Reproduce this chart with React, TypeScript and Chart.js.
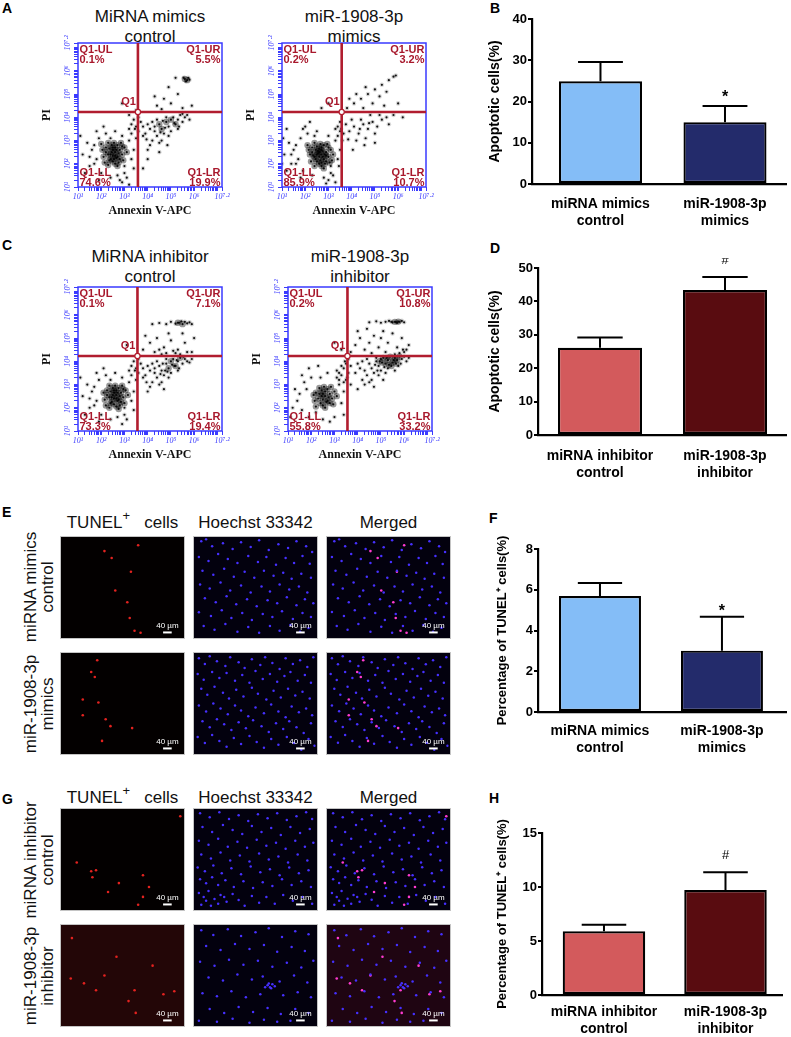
import React, { useEffect, useRef } from "react";
import { Chart, registerables } from "chart.js";

Chart.register(...registerables);

const SANS = "'Liberation Sans', Arial, Helvetica, sans-serif";
const SERIF = "'Liberation Serif', 'Times New Roman', Times, serif";
const NARROW = "'Liberation Sans Narrow', 'Arial Narrow', 'Liberation Sans', Arial, sans-serif";
const FLOW_BLUE = "#3a3aff";
const FLOW_RED = "#b11d2f";
const FLOW_TEXT_RED = "#a8182c";

type P = [number, number];

// ---------------- flow cytometry axis ----------------
const FLOW_DECADES = [1, 2, 3, 4, 5, 6, 7];
const FLOW_MINOR_FACTORS = [1, 2, 3, 4, 5, 6, 7, 8, 9];
const FLOW_MAX = 7.2;
const FLOW_LABEL_VALUES = [1, 2, 3, 4, 5, 6, 7.2];
const FLOW_LABELS = ["10¹", "10²", "10³", "10⁴", "10⁵", "10⁶", "10⁷·²"];
const QUAD_NAMES = ["Q1-UL", "Q1-UR", "Q1-LL", "Q1-LR"];
const GATE_X = [3.58, 3.57, 3.56, 3.56];
const GATE_Y = 4.23;
const A1_QUAD = ["0.1%", "5.5%", "74.6%", "19.9%"];
const A2_QUAD = ["0.2%", "3.2%", "85.9%", "10.7%"];
const C1_QUAD = ["0.1%", "7.1%", "73.3%", "19.4%"];
const C2_QUAD = ["0.2%", "10.8%", "55.8%", "33.2%"];
const A1_TITLE = ["MiRNA mimics", "control"];
const A2_TITLE = ["miR-1908-3p", "mimics"];
const C1_TITLE = ["MiRNA inhibitor", "control"];
const C2_TITLE = ["miR-1908-3p", "inhibitor"];

// events in decades (log10 Annexin V-APC, log10 PI)
const A1_CORE: P[] = [[2.3,2.4],[2.5,2.6],[2.7,2.3],[2.6,2.5],[2.4,2.2],[2.8,2.6],[2.2,2.7],[2.9,2.4],[2.5,2.1],[2.7,2.8],[2.3,2.9],[2.6,2.0],[3.0,2.7],[2.1,2.3],[2.45,2.5],[2.8,2.2],[2.6,2.7],[2.5,2.35],[2.75,2.45],[2.35,2.65],[2.55,2.9],[2.95,2.15],[2.15,2.05],[2.65,2.25],[2.45,2.8],[3.1,2.5],[2.05,2.6],[2.85,2.9],[2.7,1.9],[2.3,1.95],[2.4,2.4],[2.6,2.35],[2.5,2.7],[2.2,2.5],[2.9,2.75],[2.65,2.6],[2.35,2.15],[2.75,2.05],[2.55,2.2],[2.0,2.85],[4.5,3.7],[4.8,3.8],[5.0,3.9],[5.2,3.7],[4.6,3.5],[5.6,5.65],[5.7,5.6]];
const A1_CLOUD: P[] = [[1.6,2.6],[1.8,2.2],[1.4,2.9],[1.9,3.1],[2.0,1.6],[1.5,1.9],[1.7,2.8],[2.2,3.3],[2.6,3.4],[3.2,3.0],[3.3,2.2],[3.0,1.6],[2.9,1.2],[3.1,1.4],[2.7,1.5],[2.4,1.4],[1.2,2.4],[1.3,1.6],[1.9,1.3],[3.4,2.6],[3.2,3.5],[2.9,3.2],[1.1,3.2],[2.1,3.6],[3.4,1.8],[1.7,2.0],[1.8,3.4],[2.4,3.1],[3.0,1.9],[1.5,2.3],[2.8,1.3],[3.2,1.1],
[3.3,3.3],[3.5,3.6],[3.4,3.9],[3.6,3.4],[3.7,3.8],[3.5,3.1],[3.3,3.7],[3.8,3.2],[3.6,4.0],[3.45,3.5],[3.2,4.1],[3.5,4.3],
[3.9,3.3],[4.1,3.5],[4.3,3.4],[4.4,3.2],[4.7,3.3],[4.9,3.6],[5.1,4.0],[5.3,3.9],[5.4,4.1],[5.5,3.8],[5.6,4.0],[5.7,4.1],[4.2,3.0],[4.0,3.7],[4.6,3.0],[4.4,3.9],[4.9,3.2],[5.0,3.4],[5.3,3.5],[4.2,3.8],[4.8,4.0],[4.5,2.9],[3.8,3.6],[4.1,2.8],[5.8,3.9],[5.5,4.15],[4.3,3.6],[4.75,3.55],[5.15,3.75],[4.55,3.35],[3.95,3.05],[4.65,3.85],[5.35,3.6],[4.0,2.6],[4.85,2.8],[4.0,2.2],[3.8,1.8],[4.5,2.5],
[5.75,5.7],[5.65,5.55],[5.8,5.62],[5.55,5.7],[4.4,4.5],[4.7,4.8],[5.0,4.6],[5.3,5.0],[4.9,5.3],[5.5,4.4],[4.6,4.35],[5.9,4.5],[5.2,5.7],[4.3,4.9],[2.9,4.6]];

const A2_CORE: P[] = [[2.4,2.3],[2.6,2.5],[2.8,2.2],[2.7,2.6],[2.5,2.1],[2.9,2.5],[2.3,2.7],[3.0,2.3],[2.6,2.0],[2.8,2.8],[2.4,2.9],[2.7,1.9],[3.1,2.6],[2.2,2.4],[2.55,2.45],[2.9,2.1],[2.7,2.7],[2.6,2.3],[2.85,2.4],[2.45,2.6],[2.65,2.85],[3.05,2.05],[2.25,2.1],[2.75,2.3],[2.5,2.75],[3.2,2.4],[2.15,2.6],[2.95,2.85],[2.8,1.8],[2.4,1.9],[2.5,2.4],[2.7,2.4],[2.6,2.65],[2.3,2.5],[3.0,2.7],[2.75,2.55],[2.45,2.2],[2.85,2.0],[2.65,2.15],[2.1,2.8],[2.9,2.35],[2.55,2.55],[2.35,2.35],[3.15,2.15],[2.7,2.05]];
const A2_CLOUD: P[] = [[1.5,2.6],[1.7,2.2],[1.3,2.9],[1.8,3.1],[1.9,1.7],[1.4,2.0],[1.6,2.8],[2.1,3.3],[2.5,3.4],[3.3,3.0],[3.4,2.2],[3.1,1.6],[3.0,1.3],[3.2,1.5],[2.8,1.4],[2.3,1.5],[1.1,2.4],[1.2,1.7],[1.8,1.4],[3.5,2.6],[3.3,3.5],[3.0,3.2],[1.05,3.1],[2.0,3.6],[3.45,1.9],[1.6,2.0],[1.9,3.5],[2.4,3.2],[3.1,1.9],[1.4,2.4],[2.9,1.15],[3.3,1.2],[1.2,3.5],[2.2,3.8],[3.5,3.4],[1.0,2.0],
[3.4,3.2],[3.55,3.5],[3.5,3.8],[3.65,3.3],[3.75,3.7],[3.6,3.0],[3.4,3.6],
[3.9,3.4],[4.1,3.6],[4.3,3.3],[4.5,3.7],[4.7,3.5],[4.9,3.8],[5.1,3.6],[5.3,3.9],[4.2,3.0],[4.6,3.1],[4.4,3.9],[4.8,4.1],[5.0,3.3],[5.5,4.0],[5.8,4.1],[4.0,3.9],[4.35,3.5],[4.75,3.75],[5.2,4.1],[3.85,3.05],[4.55,2.8],[5.6,3.7],[4.05,2.6],[6.2,4.0],[5.0,2.9],
[3.8,4.4],[4.1,4.6],[4.4,4.8],[4.7,5.0],[5.0,5.2],[5.3,5.4],[5.6,5.6],[5.8,5.75],[5.9,5.8],[4.5,4.4],[4.9,4.6],[5.2,4.9],[4.2,5.0],[5.5,5.1],[6.0,4.6],[4.6,5.3],[5.4,4.5],[3.9,4.8],[3.0,4.6],[2.7,4.4]];

const C1_CORE: P[] = [[2.35,2.45],[2.55,2.65],[2.75,2.35],[2.65,2.55],[2.45,2.25],[2.85,2.65],[2.25,2.75],[2.95,2.45],[2.55,2.15],[2.75,2.85],[2.35,2.95],[2.65,2.05],[3.05,2.75],[2.15,2.35],[2.5,2.55],[2.85,2.25],[2.65,2.75],[2.55,2.4],[2.8,2.5],[2.4,2.7],[2.6,2.95],[3.0,2.2],[2.2,2.1],[2.7,2.3],[2.5,2.85],[3.15,2.55],[2.1,2.65],[2.9,2.95],[2.75,1.95],[2.35,2.0],[2.45,2.45],[2.65,2.4],[2.55,2.75],[2.25,2.55],[2.95,2.8],[2.7,2.65],[2.4,2.2],[2.8,2.1],[5.0,4.0],[5.2,3.8],[4.9,3.7],[5.4,4.15],[5.3,5.66],[5.5,5.6]];
const C1_CLOUD: P[] = [[1.6,2.7],[1.8,2.3],[1.4,3.0],[1.9,3.2],[2.0,1.7],[1.5,2.0],[1.7,2.9],[2.2,3.4],[2.6,3.5],[3.2,3.1],[3.3,2.3],[3.0,1.7],[2.9,1.3],[3.1,1.5],[2.7,1.6],[2.4,1.5],[1.2,2.5],[1.3,1.7],[1.9,1.4],[3.4,2.7],[3.2,3.6],[2.9,3.3],[1.1,3.3],[2.1,3.7],[3.4,1.9],[1.7,2.1],[1.8,3.5],[2.4,3.2],[3.0,2.0],[1.5,2.4],
[3.3,3.4],[3.5,3.7],[3.4,4.0],[3.6,3.5],[3.7,3.9],[3.5,3.2],[3.3,3.8],[3.8,3.3],[3.6,4.1],[3.45,3.6],
[3.9,3.4],[4.1,3.6],[4.3,3.5],[4.5,3.8],[4.4,3.3],[4.6,3.6],[4.8,3.9],[4.7,3.4],[5.1,4.1],[5.3,4.0],[5.5,3.9],[5.6,4.1],[5.7,4.0],[4.2,3.1],[4.0,3.8],[4.6,3.1],[4.4,4.0],[4.9,3.3],[5.0,3.5],[5.3,3.6],[4.2,3.9],[4.8,4.1],[4.5,3.0],[3.8,3.7],[4.1,2.9],[5.8,3.95],[5.55,4.2],[4.3,3.7],[4.75,3.6],[5.15,3.8],[4.55,3.45],[3.95,3.1],[4.65,3.9],[5.35,3.7],[5.05,3.85],[4.85,3.55],[5.25,4.05],[5.9,4.1],[4.0,2.7],[4.7,2.8],
[4.2,5.6],[4.5,5.65],[4.8,5.6],[5.0,5.7],[5.2,5.62],[5.35,5.66],[5.6,5.7],[5.7,5.63],[5.8,5.68],[5.45,5.72],[5.9,5.6],
[3.8,4.5],[4.1,4.8],[4.4,5.0],[4.7,4.6],[5.0,4.9],[5.3,4.5],[5.6,4.8],[5.9,4.4],[4.3,4.4],[4.9,5.2],[5.5,5.2],[3.9,5.1],[5.2,4.35],[4.6,4.3],[6.0,5.0],[4.8,4.35],[5.1,4.45],[5.4,4.3],[5.7,4.4],[4.5,4.5],[3.1,4.7]];

const C2_CORE: P[] = [[2.3,2.4],[2.5,2.6],[2.7,2.3],[2.6,2.5],[2.4,2.2],[2.8,2.6],[2.2,2.65],[2.9,2.4],[2.5,2.1],[2.7,2.8],[2.35,2.85],[2.6,2.0],[3.0,2.7],[2.15,2.3],[2.45,2.5],[2.8,2.2],[2.6,2.7],[2.5,2.35],[2.75,2.45],[2.35,2.6],[2.55,2.9],[2.95,2.15],[2.2,2.05],[2.65,2.25],[2.45,2.75],[3.1,2.5],[2.1,2.55],[2.85,2.9],
[5.2,3.9],[5.1,4.15],[5.3,4.05],[5.4,4.2],[5.5,3.95],[5.6,4.15],[5.7,4.05],[5.8,4.2],[5.45,3.8],[5.65,3.9],[5.05,3.95],[5.25,4.15],[5.35,3.85],[5.55,4.05],[4.95,4.0],[5.6,5.7],[5.75,5.71]];
const C2_CLOUD: P[] = [[1.4,2.3],[1.6,1.9],[1.8,2.8],[1.9,1.6],[1.5,2.6],[1.7,3.1],[2.0,3.3],[2.4,3.3],[3.2,3.2],[3.3,2.2],[3.0,1.6],[2.8,1.4],[2.5,1.5],[2.2,1.8],[1.2,2.0],[1.3,2.8],[1.1,1.6],[3.4,2.7],[3.1,3.6],[2.7,3.5],[1.9,3.7],[3.4,1.7],[2.3,3.8],[1.6,3.4],
[3.2,3.0],[3.3,3.4],[3.4,3.7],[3.5,3.2],[3.5,3.9],[3.6,3.5],[3.7,3.8],[3.4,3.1],[3.3,3.8],[3.6,4.1],[3.2,3.5],[3.55,3.3],[3.45,4.0],[3.1,3.3],[3.7,3.0],
[3.9,3.5],[4.1,3.7],[4.3,3.6],[4.5,3.9],[4.4,3.4],[4.6,3.7],[4.8,4.0],[4.7,3.5],[4.9,3.8],[5.0,4.1],[5.9,4.1],[6.0,4.2],[4.2,3.2],[4.0,3.9],[4.6,3.2],[4.4,4.1],[4.9,3.4],[5.0,3.6],[5.3,3.7],[4.2,4.0],[4.8,4.15],[4.5,3.1],[5.2,3.5],[5.75,3.8],[4.75,3.85],[5.15,3.75],[4.85,3.6],[6.1,4.0],[5.85,3.9],[4.3,3.0],[4.7,2.9],[5.1,3.2],[4.0,2.8],[5.6,3.6],[6.2,4.15],
[4.5,5.68],[4.8,5.72],[5.0,5.66],[5.2,5.7],[5.35,5.74],[5.5,5.68],[5.7,5.66],[5.8,5.7],[5.9,5.74],[6.0,5.68],[5.45,5.7],[5.65,5.69],
[3.7,4.4],[3.9,4.7],[4.1,5.0],[4.3,4.5],[4.5,4.8],[4.7,5.1],[4.9,4.6],[5.1,5.3],[5.3,4.8],[5.5,5.2],[5.7,4.6],[5.9,5.0],[6.1,4.5],[4.0,5.3],[4.6,4.35],[5.2,4.4],[5.8,4.35],[6.2,4.7],[4.4,5.4],[5.0,5.0],[6.0,4.4],[5.6,4.3],[5.95,4.5],[3.0,4.8],[3.3,4.5]];

// ---------------- bar charts ----------------
const MIMIC_LABELS = [["miRNA mimics", "control"], ["miR-1908-3p", "mimics"]];
const INHIB_LABELS = [["miRNA inhibitor", "control"], ["miR-1908-3p", "inhibitor"]];
const MIMIC_COLORS = ["#84bdf7", "#232b6b"];
const INHIB_COLORS = ["#d35a5c", "#590c10"];
const B_VALUES = [24.9, 15.0];
const B_ERR = [29.6, 18.9];
const D_VALUES = [26.1, 43.4];
const D_ERR = [29.2, 47.3];
const F_VALUES = [5.69, 3.01];
const F_ERR = [6.33, 4.68];
const H_VALUES = [5.9, 9.72];
const H_ERR = [6.5, 11.36];
const APOP_TITLE = "Apoptotic cells(%)";
const TUNEL_TITLE = "Percentage of TUNEL⁺ cells(%)";

// ---------------- microscopy (x, y in % of field, y from top) ----------------
const E1_BLUE: P[] = [[5,3],[9,1],[14,8],[23,5],[31,11],[38,4],[46,9],[53,2],[61,12],[69,6],[77,10],[84,3],[92,8],[97,14],[3,19],[11,23],[19,16],[27,21],[35,25],[44,18],[52,24],[59,19],[67,27],[75,20],[82,25],[89,18],[95,26],[6,33],[15,37],[24,31],[32,39],[41,34],[49,40],[57,33],[65,38],[73,35],[80,41],[88,36],[96,40],[4,47],[12,51],[21,45],[29,53],[38,48],[46,55],[55,49],[62,54],[70,47],[78,52],[86,49],[93,55],[8,61],[17,65],[26,59],[34,67],[43,62],[51,69],[60,63],[68,66],[76,60],[84,68],[91,62],[98,66],[3,75],[13,79],[22,73],[30,81],[39,76],[47,83],[56,77],[64,80],[72,74],[81,82],[89,76],[96,80],[7,89],[16,93],[25,87],[35,95],[44,90],[53,96],[62,89],[70,94],[79,88],[87,95],[94,91]];
const E1_RED: P[] = [[35,13],[41,20],[63,7],[57,34],[44,53],[54,65],[56,81],[60,94],[65,96]];
const E2_BLUE: P[] = [[3,4],[8,10],[12,2],[18,7],[25,12],[29,3],[36,8],[41,14],[47,5],[54,11],[58,3],[64,9],[70,15],[75,4],[81,10],[87,6],[93,13],[98,3],[2,20],[7,26],[14,18],[20,24],[26,19],[33,27],[39,21],[45,29],[50,17],[56,25],[62,20],[68,28],[74,22],[79,18],[85,27],[91,21],[96,29],[5,35],[10,41],[16,33],[23,39],[28,45],[34,36],[40,43],[47,34],[52,40],[59,46],[65,37],[71,44],[77,35],[83,42],[89,38],[95,45],[3,52],[9,58],[15,50],[21,55],[27,61],[33,52],[38,57],[44,63],[50,54],[57,60],[63,51],[69,58],[75,64],[80,53],[86,59],[92,55],[97,62],[6,68],[12,74],[18,66],[24,71],[30,77],[36,69],[42,75],[48,67],[55,73],[61,79],[67,70],[73,76],[78,68],[84,74],[90,80],[96,70],[2,84],[8,90],[14,82],[20,88],[26,94],[32,85],[38,91],[45,83],[51,89],[57,95],[63,86],[69,92],[76,84],[82,90],[88,97],[94,86],[99,93]];
const E2_RED: P[] = [[29,6],[24,18],[27,23],[17,46],[30,49],[17,62],[36,66],[40,73],[33,88],[58,75]];
const G1_BLUE: P[] = [[4,3],[12,7],[20,2],[28,9],[36,5],[44,11],[52,4],[60,8],[68,3],[76,10],[84,6],[92,2],[97,9],[6,17],[14,22],[23,15],[31,20],[39,24],[47,16],[55,22],[63,18],[71,25],[79,17],[87,23],[95,19],[3,31],[11,35],[19,29],[27,37],[35,32],[43,38],[51,30],[59,36],[67,33],[75,39],[83,31],[91,37],[98,33],[5,45],[13,49],[21,43],[29,51],[37,46],[45,52],[53,44],[61,50],[69,47],[77,53],[85,45],[93,51],[2,58],[8,62],[15,56],[22,64],[30,59],[38,65],[46,57],[54,63],[62,60],[70,66],[78,58],[86,64],[94,61],[4,70],[9,74],[14,68],[19,76],[25,71],[32,78],[40,72],[48,79],[56,73],[64,77],[72,70],[80,76],[88,72],[96,78],[3,84],[7,88],[11,82],[16,90],[21,86],[26,93],[31,85],[36,91],[41,97],[47,87],[53,94],[59,88],[66,95],[73,86],[81,92],[89,88],[97,95],[5,96],[13,97],[19,95],[24,88],[9,92]];
const G1_RED: P[] = [[12,53],[24,62],[28,61],[25,68],[47,74],[67,66],[67,88],[38,83],[72,78],[98,6],[63,96]];
const G2_BLUE: P[] = [[5,4],[15,9],[27,3],[38,10],[50,6],[61,2],[72,11],[83,5],[94,8],[9,20],[21,24],[33,18],[45,23],[57,19],[68,26],[80,21],[91,25],[4,36],[16,40],[28,34],[40,39],[52,35],[64,41],[76,37],[88,42],[98,35],[11,52],[23,55],[35,49],[47,54],[56,51],[70,56],[82,50],[93,57],[60,60],[62,62],[64,59],[66,61],[63,63],[61,58],[58,62],[6,68],[18,71],[30,66],[42,72],[54,69],[73,70],[85,67],[96,72],[12,84],[24,88],[36,82],[48,87],[60,83],[71,89],[83,84],[94,88],[3,96],[18,97],[31,94],[45,98],[57,95],[68,97],[79,96]];
const G2_RED: P[] = [[7,53],[18,58],[28,65],[55,76],[61,88],[84,69],[93,66],[60,65],[8,12],[45,31],[35,50],[75,40]];
const SCALE_BAR_TEXT = "40 µm";

// ---------------- helpers ----------------
function useChart(make: () => any) {
  const ref = useRef<HTMLCanvasElement>(null);
  useEffect(() => {
    const c = new Chart(ref.current as HTMLCanvasElement, make());
    return () => c.destroy();
  }, []);
  return ref;
}

const toXY = (pts: P[]) => pts.map(([x, y]) => ({ x, y }));

const flowTicks = () =>
  FLOW_DECADES.flatMap((d) => FLOW_MINOR_FACTORS.map((k) => d + Math.log10(k)))
    .filter((v) => v <= FLOW_MAX + 1e-9)
    .concat([FLOW_MAX]);

const flowLabel = (v: number) => {
  const i = FLOW_LABEL_VALUES.findIndex((t) => Math.abs(t - v) < 1e-6);
  return i >= 0 ? FLOW_LABELS[i] : "";
};

const flowDecor = {
  id: "flowDecor",
  afterDatasetsDraw(chart: any, _a: any, o: any) {
    const { ctx, chartArea: a, scales } = chart;
    const px = scales.x.getPixelForValue(o.gx);
    const py = scales.y.getPixelForValue(o.gy);
    ctx.save();
    ctx.strokeStyle = FLOW_BLUE;
    ctx.lineWidth = 1.5;
    ctx.strokeRect(a.left, a.top, a.width, a.height);
    ctx.strokeStyle = FLOW_RED;
    ctx.lineWidth = 2.6;
    ctx.beginPath();
    ctx.moveTo(px, a.top);
    ctx.lineTo(px, a.bottom);
    ctx.moveTo(a.left, py);
    ctx.lineTo(a.right, py);
    ctx.stroke();
    ctx.beginPath();
    ctx.arc(px, py, 2.6, 0, Math.PI * 2);
    ctx.fillStyle = "#fff";
    ctx.fill();
    ctx.lineWidth = 1.2;
    ctx.stroke();
    ctx.fillStyle = FLOW_TEXT_RED;
    ctx.font = `bold 11px ${NARROW}`;
    ctx.textBaseline = "middle";
    ctx.textAlign = "right";
    ctx.fillText("Q1", px - 2, py - 10);
    ctx.textAlign = "left";
    ctx.fillText(QUAD_NAMES[0], a.left + 1.5, a.top + 7);
    ctx.fillText(o.quad[0], a.left + 1.5, a.top + 17);
    ctx.fillText(QUAD_NAMES[2], a.left + 1.5, a.bottom - 14);
    ctx.fillText(o.quad[2], a.left + 1.5, a.bottom - 4);
    ctx.textAlign = "right";
    ctx.fillText(QUAD_NAMES[1], a.right - 1.5, a.top + 7);
    ctx.fillText(o.quad[1], a.right - 1.5, a.top + 17);
    ctx.fillText(QUAD_NAMES[3], a.right - 1.5, a.bottom - 14);
    ctx.fillText(o.quad[3], a.right - 1.5, a.bottom - 4);
    ctx.fillStyle = FLOW_BLUE;
    ctx.font = `italic 8px ${SERIF}`;
    ctx.textAlign = "center";
    FLOW_LABEL_VALUES.forEach((v, i) => {
      const y = scales.y.getPixelForValue(v);
      ctx.save();
      ctx.translate(a.left - 10, y);
      ctx.rotate(-Math.PI / 2);
      ctx.fillText(FLOW_LABELS[i], 0, 0);
      ctx.restore();
    });
    ctx.restore();
  },
};

const FLOW_SIZE = 144;
const FLOW_L = 40;
const FLOW_T = 8;
const FLOW_R = 14;
const FLOW_B = 32;

function FlowPlot({ fx, fy, core, cloud, gx, quad }: { fx: number; fy: number; core: P[]; cloud: P[]; gx: number; quad: string[] }) {
  const W = FLOW_L + FLOW_SIZE + FLOW_R;
  const H = FLOW_T + FLOW_SIZE + FLOW_B;
  const axisCommon = {
    type: "linear",
    min: 1,
    max: FLOW_MAX,
    afterBuildTicks: (s: any) => {
      s.ticks = flowTicks().map((v) => ({ value: v }));
    },
    grid: { drawOnChartArea: false, drawTicks: true, tickLength: 4, color: FLOW_BLUE, lineWidth: 1 },
    border: { display: false },
  };
  const ref = useChart(() => ({
    type: "scatter",
    data: {
      datasets: [
        { data: toXY(cloud), pointRadius: 2.3, pointBackgroundColor: "rgba(0,0,0,0.16)", pointBorderWidth: 0, pointHoverRadius: 0 },
        { data: toXY(core), pointRadius: 3.2, pointBackgroundColor: "rgba(0,0,0,0.4)", pointBorderWidth: 0, pointHoverRadius: 0 },
        { data: toXY(core.concat(cloud)), pointRadius: 1.1, pointBackgroundColor: "rgba(0,0,0,0.9)", pointBorderWidth: 0, pointHoverRadius: 0 },
      ],
    },
    options: {
      responsive: false,
      animation: false,
      events: [],
      layout: { padding: { top: FLOW_T, right: FLOW_R, left: 0, bottom: 0 } },
      plugins: { legend: { display: false }, tooltip: { enabled: false }, flowDecor: { gx, gy: GATE_Y, quad } },
      scales: {
        x: {
          ...axisCommon,
          afterFit: (s: any) => {
            s.height = FLOW_B;
          },
          ticks: {
            autoSkip: false,
            maxRotation: 0,
            minRotation: 0,
            padding: 1,
            color: FLOW_BLUE,
            font: { family: SERIF, style: "italic", size: 8 },
            callback: (v: number) => flowLabel(v),
          },
          title: { display: true, text: "Annexin V-APC", color: "#111", font: { family: SERIF, weight: "bold", size: 12 }, padding: { top: 0, bottom: 1 } },
        },
        y: {
          ...axisCommon,
          afterFit: (s: any) => {
            s.width = FLOW_L;
          },
          ticks: { display: false },
          title: { display: true, text: "PI", color: "#111", font: { family: SERIF, weight: "bold", size: 12 }, padding: { top: 2, bottom: 0 } },
        },
      },
    },
    plugins: [flowDecor],
  }));
  return (
    <div style={{ position: "absolute", left: fx - FLOW_L, top: fy - FLOW_T, width: W, height: H }}>
      <canvas ref={ref} width={W} height={H} />
    </div>
  );
}

const barDecor = {
  id: "barDecor",
  afterDatasetsDraw(chart: any, _a: any, o: any) {
    const { ctx, scales, chartArea: a } = chart;
    const meta = chart.getDatasetMeta(0);
    ctx.save();
    ctx.strokeStyle = "#000";
    ctx.lineWidth = 2;
    o.errs.forEach((e: number, i: number) => {
      const b = meta.data[i];
      const ey = scales.y.getPixelForValue(e);
      const hw = b.width * 0.27;
      ctx.beginPath();
      ctx.moveTo(b.x, b.y);
      ctx.lineTo(b.x, ey);
      ctx.moveTo(b.x - hw, ey);
      ctx.lineTo(b.x + hw, ey);
      ctx.stroke();
    });
    const b = meta.data[1];
    const cy = scales.y.getPixelForValue(o.errs[1]) - o.markGap;
    ctx.fillStyle = "#000";
    ctx.textAlign = "center";
    if (o.mark === "*") {
      ctx.font = `bold 16px ${SANS}`;
      ctx.textBaseline = "alphabetic";
      ctx.fillText("*", b.x, cy + 9);
    } else {
      ctx.font = `13px ${SANS}`;
      ctx.textBaseline = "middle";
      ctx.fillText(o.mark, b.x, cy);
    }
    // y-axis title (drawn without width limit)
    ctx.font = `bold ${o.titleSize}px ${SANS}`;
    ctx.textBaseline = "middle";
    ctx.translate(o.titleX, (a.top + a.bottom) / 2);
    ctx.rotate(-Math.PI / 2);
    ctx.fillText(o.title, 0, 0);
    ctx.restore();
  },
};

type BarProps = {
  top: number; height: number; yAxisW: number; xAxisH: number; padTop: number; padRight: number;
  yMax: number; step: number; values: number[]; errs: number[]; colors: string[]; labels: string[][];
  mark: string; markGap: number; xr: [number, number]; barPct: number; yTitle: string; titleX: number; titleSize: number; labelPad: number;
};

function BarPanel(p: BarProps) {
  const LEFT = 440;
  const W = 791 - LEFT;
  const ref = useChart(() => ({
    type: "bar",
    data: {
      datasets: [
        {
          data: p.values.map((v, i) => ({ x: i, y: v })),
          backgroundColor: p.colors,
          borderColor: "#000",
          borderWidth: 2.2,
          borderSkipped: false,
          categoryPercentage: 1,
          barPercentage: p.barPct,
        },
      ],
    },
    options: {
      responsive: false,
      animation: false,
      events: [],
      layout: { padding: { top: p.padTop, right: p.padRight, left: 0, bottom: 0 } },
      plugins: {
        legend: { display: false },
        tooltip: { enabled: false },
        barDecor: { errs: p.errs, mark: p.mark, markGap: p.markGap, title: p.yTitle, titleX: p.titleX, titleSize: p.titleSize },
      },
      scales: {
        x: {
          type: "linear",
          min: p.xr[0],
          max: p.xr[1],
          offset: false,
          afterBuildTicks: (s: any) => {
            s.ticks = p.labels.map((_, i) => ({ value: i }));
          },
          afterFit: (s: any) => {
            s.height = p.xAxisH;
          },
          ticks: {
            autoSkip: false,
            maxRotation: 0,
            minRotation: 0,
            padding: p.labelPad,
            color: "#000",
            font: { family: SANS, weight: "bold", size: 14 },
            callback: (v: number) => p.labels[Math.round(v)],
          },
          grid: { display: false, drawTicks: false },
          border: { display: true, color: "#000", width: 2.2 },
        },
        y: {
          min: 0,
          max: p.yMax,
          afterFit: (s: any) => {
            s.width = p.yAxisW;
          },
          ticks: { stepSize: p.step, padding: 1, color: "#000", font: { family: SANS, weight: "bold", size: 13 } },
          grid: { drawOnChartArea: false, drawTicks: true, tickLength: 4, color: "#000", lineWidth: 2 },
          border: { display: true, color: "#000", width: 2.2 },
        },
      },
    },
    plugins: [barDecor],
  }));
  return (
    <div style={{ position: "absolute", left: LEFT, top: p.top, width: W, height: p.height }}>
      <canvas ref={ref} width={W} height={p.height} />
    </div>
  );
}

const microDecor = {
  id: "microDecor",
  beforeDraw(chart: any, _a: any, o: any) {
    const { ctx, width, height } = chart;
    ctx.save();
    ctx.fillStyle = o.bg;
    ctx.fillRect(0, 0, width, height);
    ctx.restore();
  },
  afterDraw(chart: any) {
    const { ctx, width, height } = chart;
    ctx.save();
    ctx.fillStyle = "#fff";
    ctx.strokeStyle = "#fff";
    ctx.font = `8px ${SANS}`;
    ctx.textAlign = "center";
    ctx.textBaseline = "middle";
    ctx.fillText(SCALE_BAR_TEXT, width * 0.865, height * 0.875);
    ctx.lineWidth = 2;
    ctx.beginPath();
    ctx.moveTo(width * 0.83, height * 0.945);
    ctx.lineTo(width * 0.9, height * 0.945);
    ctx.stroke();
    ctx.restore();
  },
};

type Layer = { pts: P[]; color: string; r: number };

const MW = 125;
const MH = 103;

function Micro({ x, y, layers, bg }: { x: number; y: number; layers: Layer[]; bg: string }) {
  const W = MW - 2;
  const H = MH - 2;
  const ref = useChart(() => ({
    type: "scatter",
    data: {
      datasets: layers.map((l) => ({
        data: toXY(l.pts),
        pointRadius: l.r,
        pointBackgroundColor: l.color,
        pointBorderWidth: 0,
        pointHoverRadius: 0,
      })),
    },
    options: {
      responsive: false,
      animation: false,
      events: [],
      layout: { padding: 0 },
      plugins: { legend: { display: false }, tooltip: { enabled: false }, microDecor: { bg } },
      scales: {
        x: { type: "linear", min: 0, max: 100, display: false },
        y: { type: "linear", min: 0, max: 100, reverse: true, display: false },
      },
    },
    plugins: [microDecor],
  }));
  return (
    <div style={{ position: "absolute", left: x, top: y, width: MW, height: MH, boxSizing: "border-box", border: "1px solid #c4c4c4" }}>
      <canvas ref={ref} width={W} height={H} style={{ display: "block" }} />
    </div>
  );
}

const BLUE_DOT = "#4630ff";
const RED_DOT = "#e3221f";
const PINK_DOT = "#ff3bd0";

function MicroRow({ y, blue, red, tinted }: { y: number; blue: P[]; red: P[]; tinted?: boolean }) {
  return (
    <>
      <Micro x={60} y={y} bg={tinted ? "#230607" : "#030000"} layers={[{ pts: red, color: RED_DOT, r: 1.3 }]} />
      <Micro x={193} y={y} bg="#03010e" layers={[{ pts: blue, color: BLUE_DOT, r: 1.25 }]} />
      <Micro
        x={326}
        y={y}
        bg={tinted ? "#1f0512" : "#03010e"}
        layers={[
          { pts: blue, color: BLUE_DOT, r: 1.25 },
          { pts: red, color: PINK_DOT, r: 1.3 },
        ]}
      />
    </>
  );
}

function Letter({ x, y, t }: { x: number; y: number; t: string }) {
  return (
    <div style={{ position: "absolute", left: x, top: y, font: `bold 14px ${SANS}`, lineHeight: "16px", color: "#000" }}>{t}</div>
  );
}

function Title({ cx, top, lines }: { cx: number; top: number; lines: string[] }) {
  return (
    <div style={{ position: "absolute", left: cx - 110, top, width: 220, textAlign: "center", font: `17px ${SANS}`, lineHeight: "20px", color: "#111", whiteSpace: "nowrap" }}>
      {lines[0]}
      <br />
      {lines[1]}
    </div>
  );
}

function Headers({ top }: { top: number }) {
  const st: React.CSSProperties = { position: "absolute", top, width: 140, textAlign: "center", font: `17px ${SANS}`, lineHeight: "20px", color: "#111", whiteSpace: "nowrap" };
  return (
    <>
      <div style={{ ...st, left: 122.5 - 70 }}>
        TUNEL<sup style={{ fontSize: 13, lineHeight: 0, position: "relative", top: -1 }}>+</sup>&nbsp;&nbsp;&nbsp;cells
      </div>
      <div style={{ ...st, left: 255.5 - 70 }}>Hoechst 33342</div>
      <div style={{ ...st, left: 388.5 - 70 }}>Merged</div>
    </>
  );
}

function RowLabel({ cy, lines }: { cy: number; lines: string[] }) {
  const w = 150;
  const h = 34;
  return (
    <div
      style={{
        position: "absolute",
        left: 38.5 - w / 2,
        top: cy - h / 2,
        width: w,
        height: h,
        transform: "rotate(-90deg)",
        textAlign: "center",
        font: `17px ${SANS}`,
        lineHeight: "17px",
        color: "#111",
        whiteSpace: "nowrap",
      }}
    >
      {lines[0]}
      <br />
      {lines[1]}
    </div>
  );
}

export default function App() {
  return (
    <div style={{ position: "absolute", left: 0, top: 0, width: 791, height: 1037, overflow: "hidden", background: "#fff" }}>
      <Letter x={2} y={0} t="A" />
      <Title cx={150} top={7} lines={A1_TITLE} />
      <Title cx={354} top={7} lines={A2_TITLE} />
      <FlowPlot fx={78} fy={43} core={A1_CORE} cloud={A1_CLOUD} gx={GATE_X[0]} quad={A1_QUAD} />
      <FlowPlot fx={282} fy={43} core={A2_CORE} cloud={A2_CLOUD} gx={GATE_X[1]} quad={A2_QUAD} />

      <Letter x={490} y={0} t="B" />
      <BarPanel top={10} height={220} yAxisW={92} xAxisH={46} padTop={9} padRight={5} yMax={40} step={10}
        values={B_VALUES} errs={B_ERR} colors={MIMIC_COLORS} labels={MIMIC_LABELS} mark="*" markGap={13}
        xr={[-0.55, 1.49]} barPct={0.667} yTitle={APOP_TITLE} titleX={55} titleSize={14} labelPad={12} />

      <Letter x={2} y={237} t="C" />
      <Title cx={150} top={247} lines={C1_TITLE} />
      <Title cx={360} top={247} lines={C2_TITLE} />
      <FlowPlot fx={78} fy={287} core={C1_CORE} cloud={C1_CLOUD} gx={GATE_X[2]} quad={C1_QUAD} />
      <FlowPlot fx={288} fy={287} core={C2_CORE} cloud={C2_CLOUD} gx={GATE_X[3]} quad={C2_QUAD} />

      <Letter x={490} y={240} t="D" />
      <BarPanel top={258} height={220} yAxisW={98} xAxisH={43} padTop={10} padRight={5} yMax={50} step={10}
        values={D_VALUES} errs={D_ERR} colors={INHIB_COLORS} labels={INHIB_LABELS} mark="#" markGap={17}
        xr={[-0.496, 1.488]} barPct={0.672} yTitle={APOP_TITLE} titleX={55} titleSize={14} labelPad={13} />

      <Letter x={2} y={504} t="E" />
      <Headers top={513} />
      <RowLabel cy={587} lines={MIMIC_LABELS[0]} />
      <RowLabel cy={703.5} lines={MIMIC_LABELS[1]} />
      <MicroRow y={536} blue={E1_BLUE} red={E1_RED} />
      <MicroRow y={652} blue={E2_BLUE} red={E2_RED} />

      <Letter x={489} y={510} t="F" />
      <BarPanel top={525} height={230} yAxisW={98} xAxisH={43} padTop={24} padRight={5} yMax={8} step={2}
        values={F_VALUES} errs={F_ERR} colors={MIMIC_COLORS} labels={MIMIC_LABELS} mark="*" markGap={10}
        xr={[-0.508, 1.525]} barPct={0.672} yTitle={TUNEL_TITLE} titleX={62} titleSize={13} labelPad={11} />

      <Letter x={2} y={791} t="G" />
      <Headers top={788} />
      <RowLabel cy={859.5} lines={INHIB_LABELS[0]} />
      <RowLabel cy={976} lines={INHIB_LABELS[1]} />
      <MicroRow y={808} blue={G1_BLUE} red={G1_RED} />
      <MicroRow y={924} blue={G2_BLUE} red={G2_RED} tinted />

      <Letter x={489} y={790} t="H" />
      <BarPanel top={810} height={227} yAxisW={102} xAxisH={42} padTop={23} padRight={9} yMax={15} step={5}
        values={H_VALUES} errs={H_ERR} colors={INHIB_COLORS} labels={INHIB_LABELS} mark="#" markGap={17}
        xr={[-0.51, 1.465]} barPct={0.679} yTitle={TUNEL_TITLE} titleX={62} titleSize={13} labelPad={9} />
    </div>
  );
}
